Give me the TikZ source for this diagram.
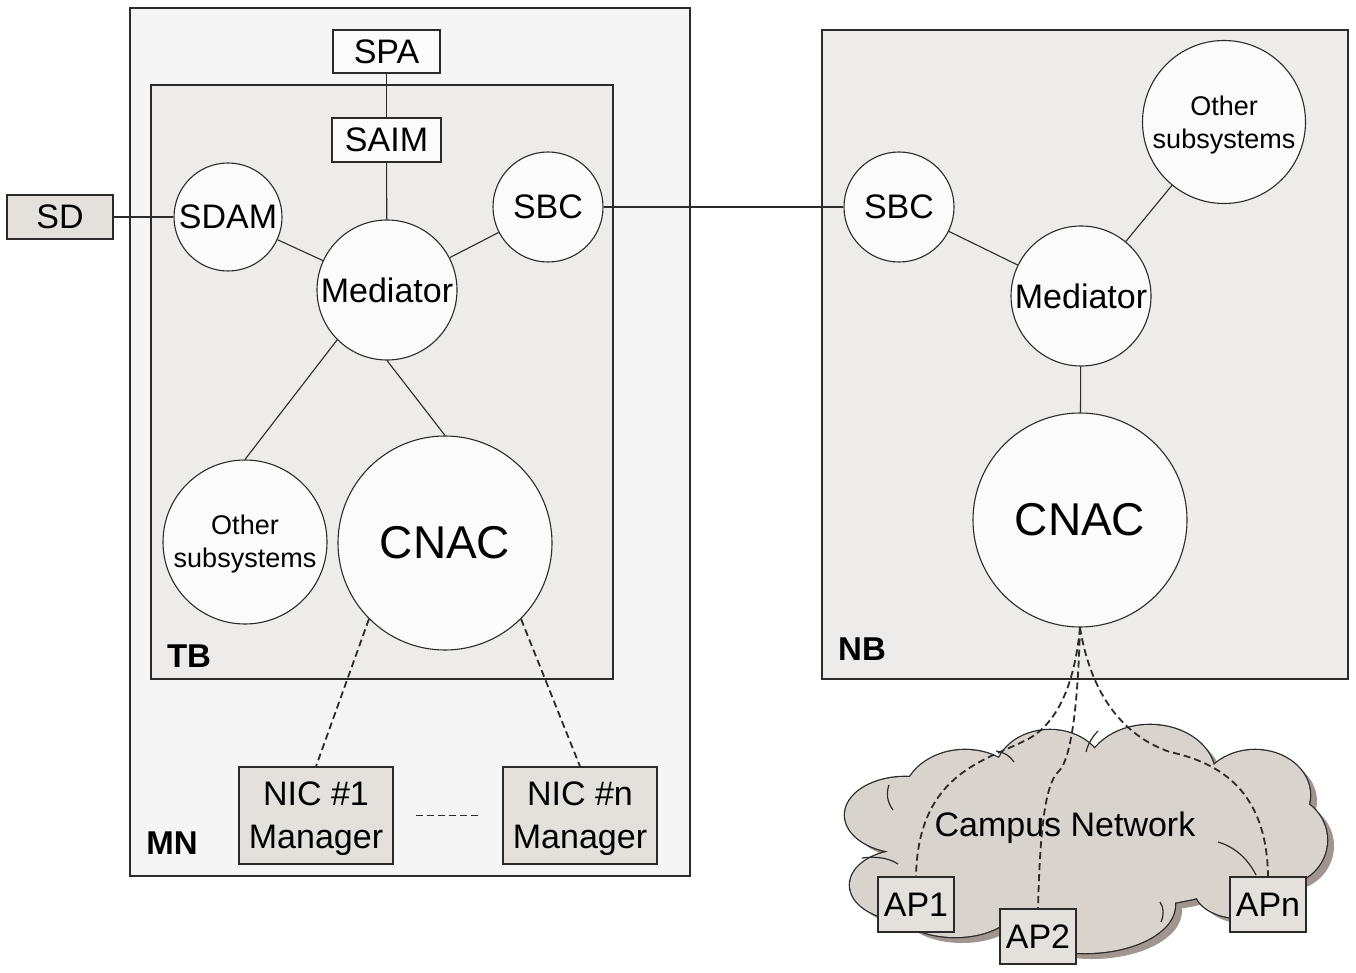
\documentclass[tikz,border=0pt]{standalone}
\usepackage{fontspec}
\setmainfont{Liberation Sans}
\definecolor{edge}{HTML}{2B2B2B}
\definecolor{mnfill}{HTML}{F4F5F4}
\definecolor{tbfill}{HTML}{EDECEA}
\definecolor{disk}{HTML}{FAFBFA}
\definecolor{devfill}{HTML}{E4E1DC}
\definecolor{cloudfill}{HTML}{D9D3CD}
\definecolor{cloudshade}{HTML}{A0958F}
\tikzset{
  region/.style={draw=edge, line width=1.3pt, inner sep=0pt},
  ball/.style={circle, draw=edge, fill=disk, line width=1.1pt, inner sep=0pt,
    font=\fontsize{34}{41}\selectfont},
  tag/.style={draw=edge, line width=1.2pt, inner sep=0pt, align=center,
    font=\fontsize{34}{43}\selectfont},
  boxlabel/.style={font=\fontsize{33}{40}\selectfont\bfseries},
  link/.style={draw=edge, line width=1.1pt},
  dlink/.style={draw=edge, line width=1.8pt, dash pattern=on 7pt off 4pt},
}
\def\cloudlobes{905/815/60/38, 905/885/55/35, 965/800/62/50, 1050/775/55/45,
  1150/775/65/50, 1255/795/55/45, 1280/840/47/45, 1240/890/45/28,
  1085/905/90/48, 955/905/60/32, 1085/840/200/70}
\begin{document}
\begin{tikzpicture}[x=1pt,y=-1pt]
\useasboundingbox (0,0) rectangle (1356,973);

% enclosing blocks
\node[region, fill=mnfill, minimum width=560pt, minimum height=868pt] (mn) at (410,442) {};
\node[region, fill=tbfill, minimum width=462pt, minimum height=594pt] (tb) at (382,382) {};
\node[region, fill=tbfill, minimum width=526pt, minimum height=649pt] (nb) at (1085,354.5) {};
\node[boxlabel] (tblab) at (189,656) {TB};
\node[boxlabel] (mnlab) at (172,843) {MN};
\node[boxlabel] (nblab) at (862,649) {NB};

% campus network cloud: shadow, outline, body
\foreach \cx/\cy/\rx/\ry in \cloudlobes
  \fill[cloudshade] (\cx+7,\cy+6) ellipse [x radius=\rx pt, y radius=\ry pt];
\foreach \cx/\cy/\rx/\ry in \cloudlobes
  \draw[edge, line width=2.6pt] (\cx,\cy) ellipse [x radius=\rx pt, y radius=\ry pt];
\foreach \cx/\cy/\rx/\ry in \cloudlobes
  \fill[cloudfill] (\cx,\cy) ellipse [x radius=\rx pt, y radius=\ry pt];
\begin{scope}[edge, line width=1.2pt]
  \draw (1086,752) .. controls (1088,744) and (1092,737) .. (1098,731);
  \draw (996,751) .. controls (1004,752) and (1010,756) .. (1014,762);
  \draw (893,810) .. controls (887,802) and (886,793) .. (889,785);
  \draw (862,858) .. controls (876,856) and (889,858) .. (898,864);
  \draw (1218,842) .. controls (1235,847) and (1248,859) .. (1256,875);
  \draw (1160,902) .. controls (1164,908) and (1164,915) .. (1161,922);
\end{scope}
\node[font=\fontsize{34}{41}\selectfont] (campus) at (1065,828) {Campus Network};

% devices
\node[tag, fill=disk, minimum width=107pt, minimum height=43pt] (spa) at (386.5,51.5) {SPA};
\node[tag, fill=disk, minimum width=109pt, minimum height=44pt] (saim) at (386.5,140) {SAIM};
\node[tag, fill=devfill, minimum width=106pt, minimum height=44pt] (sd) at (60,217) {SD};
\node[tag, fill=devfill, minimum width=154pt, minimum height=97pt] (nic1) at (316,815.5) {};
\node[tag, fill=devfill, minimum width=154pt, minimum height=97pt] (nicn) at (580,815.5) {};
\node[font=\fontsize{34}{43}\selectfont, align=center] (nic1txt) at (316,819) {NIC \#1\\Manager};
\node[font=\fontsize{34}{43}\selectfont, align=center] (nicntxt) at (580,819) {NIC \#n\\Manager};
\node[tag, fill=devfill, minimum width=76pt, minimum height=55pt] (ap1) at (916,904.5) {AP1};
\node[tag, fill=devfill, minimum width=76pt, minimum height=55pt] (ap2) at (1038,936.5) {AP2};
\node[tag, fill=devfill, minimum width=76pt, minimum height=55pt] (apn) at (1268,904.5) {APn};

% subsystems of TB
\node[ball, minimum size=108pt] (sdam) at (228,217) {SDAM};
\node[ball, minimum size=140pt] (medL) at (387,290) {Mediator};
\node[ball, minimum size=110pt] (sbcL) at (548,207) {SBC};
\node[ball, minimum size=164pt] (othL) at (245,542) {};
\node[align=center, font=\fontsize{27}{33}\selectfont] (othLtxt) at (245,544) {Other\\subsystems};
\node[ball, minimum size=214pt, font=\fontsize{46}{55}\selectfont] (cnacL) at (445,543) {CNAC};

% subsystems of NB
\node[ball, minimum size=110pt] (sbcR) at (899,207) {SBC};
\node[ball, minimum size=163pt] (othR) at (1224,122) {};
\node[align=center, font=\fontsize{27}{33}\selectfont] (othRtxt) at (1224,125) {Other\\subsystems};
\node[ball, minimum size=140pt] (medR) at (1081,296) {Mediator};
\node[ball, minimum size=214pt, font=\fontsize{46}{55}\selectfont] (cnacR) at (1080,520) {CNAC};

% connections
\draw[link] (sd) -- (sdam);
\draw[link] (spa) -- (saim);
\draw[link] (saim) -- (medL);
\draw[link] (sdam) -- (medL);
\draw[link] (sbcL) -- (medL);
\draw[link] (medL.225) -- (othL.north);
\draw[link] (medL.south) -- (cnacL.north);
\draw[link] (sbcL) -- (sbcR);
\draw[link] (sbcR) -- (medR);
\draw[link] (othR) -- (medR);
\draw[link] (medR) -- (cnacR);

\draw[dlink] (cnacL.225) -- (nic1.north);
\draw[dlink] (cnacL.315) -- (nicn.north);
\draw[dlink] ([xshift=22pt]nic1.east) -- ([xshift=-21pt]nicn.west);

\draw[dlink] (cnacR.south) .. controls (1075,680) and (1060,720) .. (1030,738)
  .. controls (990,760) and (918,770) .. (ap1.north);
\draw[dlink] (cnacR.south) .. controls (1078,700) and (1072,760) .. (1058,772)
  .. controls (1045,785) and (1040,830) .. (ap2.north);
\draw[dlink] (cnacR.south) .. controls (1090,690) and (1120,735) .. (1170,752)
  .. controls (1230,765) and (1267,800) .. (apn.north);
\end{tikzpicture}
\end{document}
